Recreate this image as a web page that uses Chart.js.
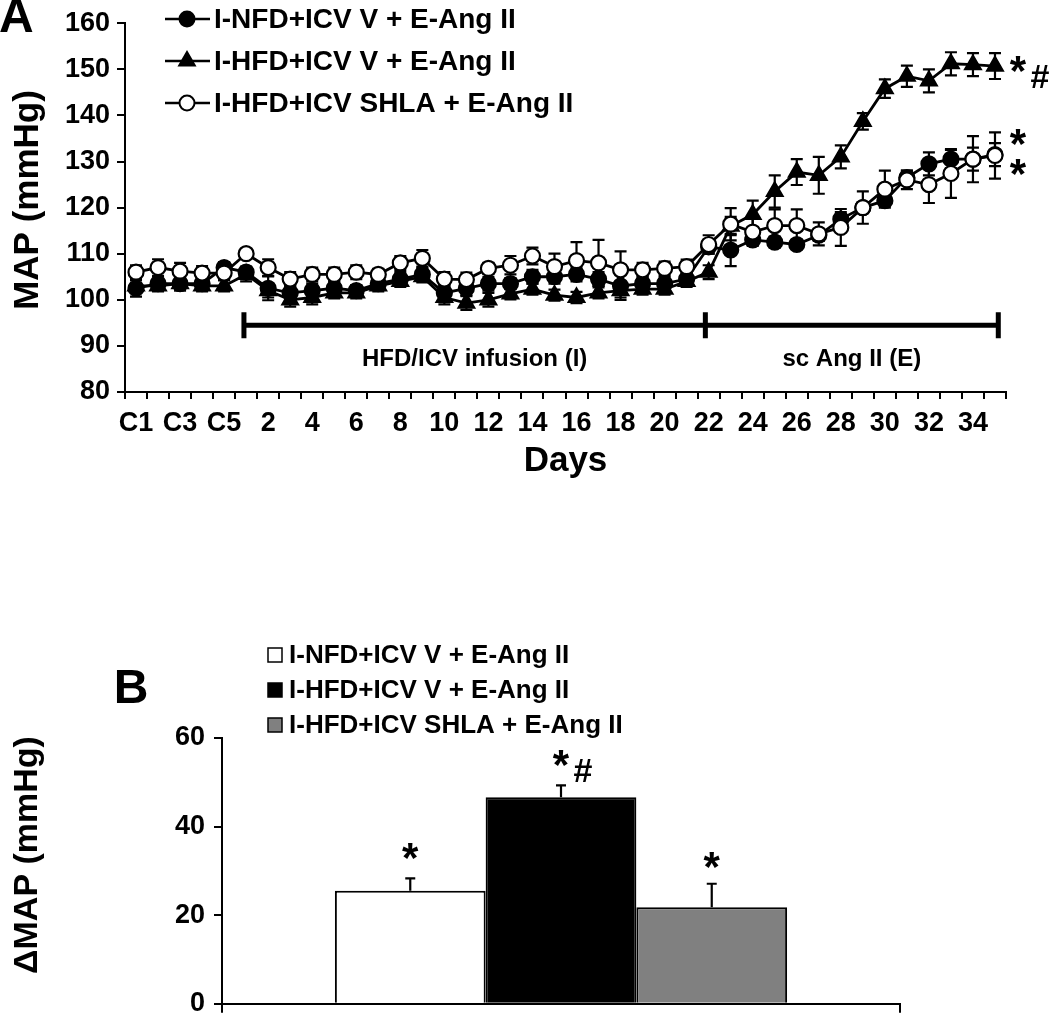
<!DOCTYPE html>
<html lang="en">
<head>
  <meta charset="UTF-8">
  <title>MAP and delta MAP</title>
  <script src="https://cdn.jsdelivr.net/npm/chart.js"></script>
  <style>
    body { margin: 0; background: #fff; }
    #panelA { position: absolute; left: 0; top: 0; }
    #panelB { position: absolute; left: 0; top: 600px; }
  </style>
</head>
<body>
  <canvas id="panelA" width="1050" height="482"></canvas>
  <canvas id="panelB" width="1050" height="429"></canvas>
  <script>
    // ---- data ----
    const days = ['C1', 'C2', 'C3', 'C4', 'C5',
      '1', '2', '3', '4', '5', '6', '7', '8', '9', '10',
      '11', '12', '13', '14', '15', '16', '17', '18', '19', '20',
      '21', '22', '23', '24', '25', '26', '27', '28', '29', '30',
      '31', '32', '33', '34', '35'];

    const groups = ['I-NFD+ICV V + E-Ang II', 'I-HFD+ICV V + E-Ang II', 'I-HFD+ICV SHLA + E-Ang II'];

    // MAP (mmHg), mean and SEM per day
    const nfdMap = [102.5, 103.5, 103.5, 103.5, 107, 106, 102.5, 101.5, 102, 102.5,
      102, 103.5, 104.5, 105.5, 101.5, 102.5, 103.5, 103.5, 105, 105,
      105.5, 104.5, 103, 103.5, 103.5, 104.5, 111.5, 110.8, 113, 112.5,
      112, 114, 117.5, 120, 121.5, 126.5, 129.5, 130.5, 130.5, 131.5];
    const nfdSem = [1.8, 1.5, 1.5, 1.2, 1.2, 1.2, 2.6, 1.5, 1.5, 1.5,
      1.2, 1.2, 1.5, 1.5, 1.5, 1.5, 1.5, 1.2, 1.5, 1.5,
      1.5, 1.5, 3, 1.5, 1.5, 1.5, 1.5, 3.5, 1, 1.2,
      1, 1.2, 1.5, 1.2, 1, 1.5, 2.5, 2, 2.5, 2.5];

    const hfdMap = [103, 103, 103.5, 103, 103, 105.5, 102, 100, 100.5, 101.5,
      101.5, 103, 104, 105, 100.5, 99.3, 100, 101.3, 102.3, 101,
      100.5, 101.5, 102, 102.3, 102.3, 104, 106, 116, 118.5, 123.5,
      127.7, 127, 131, 138.7, 145.8, 148.5, 147.5, 151.2, 151, 150.7];
    const hfdSem = [1.2, 1.2, 1.2, 1.2, 1.2, 1.5, 1.5, 1.5, 1.5, 1.2,
      1.2, 1.2, 1.2, 1.2, 1.5, 1.5, 1.5, 1.2, 1.2, 1.2,
      1.2, 1.2, 1.5, 1.2, 1.2, 1.2, 1.5, 2, 3, 3.5,
      2.8, 4, 2.5, 1.8, 2, 2.3, 2.5, 2.5, 2.5, 2.8];

    const shlaMap = [106, 107, 106.2, 105.8, 105.8, 110, 107, 104.5, 105.5, 105.5,
      106, 105.5, 108, 109, 104.5, 104.4, 106.8, 107.5, 109.5, 107.2,
      108.5, 108, 106.5, 106.5, 106.8, 107.2, 112, 116.4, 114.7, 116.1,
      116.1, 114.3, 115.7, 120, 124, 126, 125, 127.4, 130.5, 131.3];
    const shlaSem = [1.5, 1.8, 1.8, 1.5, 1.5, 1, 1.8, 1.5, 1.5, 1.5,
      1.5, 1.2, 1.5, 1.8, 1.5, 1.5, 1.2, 2, 1.8, 2.8,
      4, 5, 4, 1.5, 1.5, 1.5, 2, 3.5, 3, 3.5,
      3.5, 2.5, 4, 3.5, 4, 2, 4, 5.3, 5, 5];

    // protocol bracket (category index units) and labels
    const phaseNames = ['HFD/ICV infusion (I)', 'sc Ang II (E)'];
    const phaseEdges = [4.9, 25.85, 39.15];
    const phaseLevel = 94.5;
    const phaseLabelLevel = 87;

    // significance marks at the end of each line (mmHg level of the star)
    const lineSig = ['*', '*#', '*'];
    const lineSigLevel = [135.5, 151.3, 129];

    // panel B: delta MAP (mmHg)
    const deltaMap = [25.5, 46.6, 21.8];
    const deltaSem = [2.8, 2.7, 5.3];
    const barSig = ['*', '*#', '*'];
    const barSigLevel = [34.7, 55.7, 32.6];

    const FONT = '"Liberation Sans", Arial, Helvetica, sans-serif';
    Chart.defaults.font.family = FONT;
    Chart.defaults.font.weight = 'bold';
    Chart.defaults.color = '#000';

    // error bars, drawn under each dataset
    const errorBars = {
      id: 'errorBars',
      beforeDatasetDraw(chart, args) {
        const ds = chart.data.datasets[args.index];
        if (!ds.errors) return;
        const ctx = chart.ctx;
        const y = chart.scales.y;
        const cap = ds.capWidth || 6;
        ctx.save();
        ctx.strokeStyle = '#000';
        ctx.lineWidth = 2.2;
        args.meta.data.forEach((el, i) => {
          const v = ds.data[i], e = ds.errors[i];
          const top = y.getPixelForValue(v + e);
          const bot = ds.upOnly ? y.getPixelForValue(v) : y.getPixelForValue(v - e);
          ctx.beginPath();
          ctx.moveTo(el.x, top); ctx.lineTo(el.x, bot);
          ctx.moveTo(el.x - cap, top); ctx.lineTo(el.x + cap, top);
          if (!ds.upOnly) { ctx.moveTo(el.x - cap, bot); ctx.lineTo(el.x + cap, bot); }
          ctx.stroke();
        });
        ctx.restore();
      }
    };

    function drawSig(ctx, text, x, cy) {
      // star centred on (x, cy); '#' sits a bit lower to its right
      ctx.font = 'bold 42px ' + FONT;
      ctx.textAlign = 'center';
      ctx.textBaseline = 'alphabetic';
      ctx.fillText('*', x, cy + 22);
      if (text.includes('#')) {
        ctx.font = 'bold 34px ' + FONT;
        ctx.fillText('#', x + 22, cy + 25);
      }
    }

    function drawVerticalTitle(ctx, text, x, y, size) {
      ctx.save();
      ctx.translate(x, y);
      ctx.rotate(-Math.PI / 2);
      ctx.font = 'bold ' + size + 'px ' + FONT;
      ctx.textAlign = 'center';
      ctx.textBaseline = 'middle';
      ctx.fillStyle = '#000';
      ctx.fillText(text, 0, 0);
      ctx.restore();
    }

    const mapNotes = {
      id: 'mapNotes',
      afterDatasetsDraw(chart) {
        const { ctx, scales: { x, y } } = chart;
        ctx.save();
        ctx.strokeStyle = '#000';
        ctx.fillStyle = '#000';
        ctx.lineWidth = 5;
        const by = y.getPixelForValue(phaseLevel);
        const xs = phaseEdges.map(v => x.getPixelForValue(v));
        ctx.beginPath();
        ctx.moveTo(xs[0], by); ctx.lineTo(xs[xs.length - 1], by);
        xs.forEach(px => { ctx.moveTo(px, by - 13); ctx.lineTo(px, by + 13); });
        ctx.stroke();

        ctx.font = 'bold 24px ' + FONT;
        ctx.textAlign = 'center';
        ctx.textBaseline = 'middle';
        const ly = y.getPixelForValue(phaseLabelLevel);
        phaseNames.forEach((t, i) => ctx.fillText(t, (xs[i] + xs[i + 1]) / 2, ly));

        chart.data.datasets.forEach((ds, i) => {
          const meta = chart.getDatasetMeta(i);
          const last = meta.data[meta.data.length - 1];
          drawSig(ctx, lineSig[i], last.x + 23, y.getPixelForValue(lineSigLevel[i]));
        });

        // legend
        chart.data.datasets.forEach((ds, i) => {
          const yy = 19 + i * 42;
          ctx.strokeStyle = '#000';
          ctx.lineWidth = 2.5;
          ctx.beginPath(); ctx.moveTo(165, yy); ctx.lineTo(210, yy); ctx.stroke();
          ctx.fillStyle = ds.backgroundColor;
          ctx.strokeStyle = ds.borderColor;
          ctx.lineWidth = 2;
          Chart.helpers.drawPoint(ctx, { pointStyle: ds.pointStyle, radius: ds.pointRadius, borderWidth: 2, rotation: 0 }, 187, yy);
          ctx.fillStyle = '#000';
          ctx.font = 'bold 28px ' + FONT;
          ctx.textAlign = 'left';
          ctx.textBaseline = 'middle';
          ctx.fillText(ds.label, 214, yy + 1);
        });

        drawVerticalTitle(ctx, 'MAP (mmHg)', 28, 200, 35);
        ctx.font = 'bold 48px ' + FONT;
        ctx.textAlign = 'left';
        ctx.textBaseline = 'middle';
        ctx.fillText('A', -1, 19);
        ctx.restore();
      }
    };

    const axisLine = { color: '#000', width: 2 };

    new Chart(document.getElementById('panelA'), {
      type: 'line',
      data: {
        labels: days,
        datasets: [
          { label: groups[0], data: nfdMap, errors: nfdSem, pointStyle: 'circle', pointRadius: 7.5,
            backgroundColor: '#000', borderColor: '#000', order: 1 },
          { label: groups[1], data: hfdMap, errors: hfdSem, pointStyle: 'triangle', pointRadius: 9,
            backgroundColor: '#000', borderColor: '#000', order: 2 },
          { label: groups[2], data: shlaMap, errors: shlaSem, pointStyle: 'circle', pointRadius: 7.5,
            backgroundColor: '#fff', borderColor: '#000', order: 0 }
        ]
      },
      options: {
        responsive: false,
        animation: false,
        layout: { padding: { top: 14, right: 44, left: 0, bottom: 0 } },
        elements: {
          line: { borderWidth: 2.8, tension: 0 },
          point: { borderWidth: 2.2 }
        },
        plugins: { legend: { display: false }, tooltip: { enabled: false } },
        scales: {
          x: {
            offset: true,
            grid: { offset: true, drawOnChartArea: false, color: '#000', lineWidth: 2, tickLength: 7 },
            border: axisLine,
            ticks: {
              autoSkip: false, maxRotation: 0, padding: 8, font: { size: 27 },
              callback: (v, i) => (i % 2 === 0 ? days[i] : '')
            },
            title: { display: true, text: 'Days', font: { size: 35 }, padding: 0 },
            afterFit: s => { s.height = 90; }
          },
          y: {
            min: 80, max: 160,
            grid: { drawOnChartArea: false, color: '#000', lineWidth: 2, tickLength: 8 },
            border: axisLine,
            ticks: { stepSize: 10, padding: 7, font: { size: 27 } },
            afterFit: s => { s.width = 125; }
          }
        }
      },
      plugins: [errorBars, mapNotes]
    });

    const barFill = ['#ffffff', '#000000', '#808080'];

    const barNotes = {
      id: 'barNotes',
      afterDatasetsDraw(chart) {
        const { ctx, scales: { y } } = chart;
        ctx.save();
        ctx.fillStyle = '#000';
        chart.data.datasets.forEach((ds, i) => {
          const bar = chart.getDatasetMeta(i).data[0];
          drawSig(ctx, barSig[i], bar.x, y.getPixelForValue(barSigLevel[i]));
        });
        chart.data.datasets.forEach((ds, i) => {
          const yy = 55 + i * 35;
          ctx.fillStyle = ds.backgroundColor;
          ctx.fillRect(268, yy - 7, 14, 14);
          ctx.strokeStyle = '#000';
          ctx.lineWidth = 1.5;
          ctx.strokeRect(268, yy - 7, 14, 14);
          ctx.fillStyle = '#000';
          ctx.font = 'bold 26px ' + FONT;
          ctx.textAlign = 'left';
          ctx.textBaseline = 'middle';
          ctx.fillText(ds.label, 289, yy + 1);
        });
        drawVerticalTitle(ctx, 'ΔMAP (mmHg)', 28, 255, 34);
        ctx.font = 'bold 48px ' + FONT;
        ctx.textAlign = 'center';
        ctx.textBaseline = 'middle';
        ctx.fillText('B', 131, 90);
        ctx.restore();
      }
    };

    new Chart(document.getElementById('panelB'), {
      type: 'bar',
      data: {
        labels: [''],
        datasets: groups.map((g, i) => ({
          label: g, data: [deltaMap[i]], errors: [deltaSem[i]], upOnly: true, capWidth: 5,
          backgroundColor: barFill[i], borderColor: '#000', borderWidth: 2
        }))
      },
      options: {
        responsive: false,
        animation: false,
        layout: { padding: { top: 138, right: 150, left: 0, bottom: 0 } },
        datasets: { bar: { categoryPercentage: 0.667, barPercentage: 1 } },
        plugins: { legend: { display: false }, tooltip: { enabled: false } },
        scales: {
          x: {
            grid: { offset: true, drawOnChartArea: false, color: '#000', lineWidth: 2, tickLength: 9 },
            border: axisLine,
            ticks: { display: false },
            afterFit: s => { s.height = 9; }
          },
          y: {
            min: 0, max: 60,
            grid: { drawOnChartArea: false, color: '#000', lineWidth: 2, tickLength: 8 },
            border: axisLine,
            ticks: { stepSize: 20, padding: 9, font: { size: 27 } },
            afterFit: s => { s.width = 222; }
          }
        }
      },
      plugins: [errorBars, barNotes]
    });
  </script>
</body>
</html>
